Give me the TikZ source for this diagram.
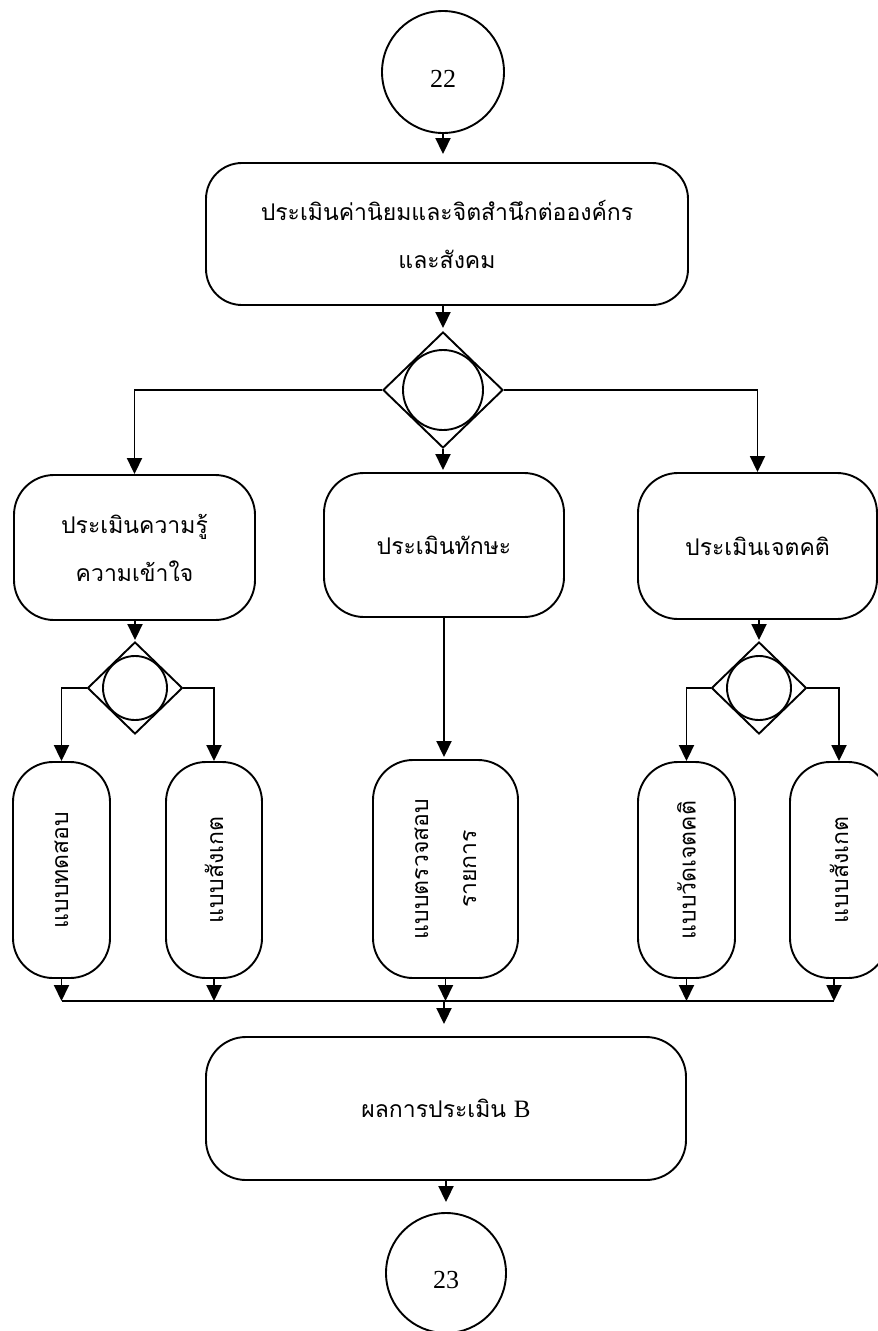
\documentclass[tikz,border=0pt]{standalone}
\usepackage{fontspec}
\setmainfont{Liberation Serif}
\newfontfamily\thai[Script=Thai]{Loma}
\usetikzlibrary{shapes.geometric,arrows.meta}
\begin{document}
\begin{tikzpicture}[x=1pt,y=-1pt,line width=1.9pt,
  thaitext/.style={font=\thai\fontsize{23}{48}\selectfont},
  rbox/.style={draw,rounded corners=40pt,inner sep=0pt,align=center,thaitext},
  vbox/.style={rbox,rotate=90},
  dmd/.style={draw,diamond,inner sep=0pt},
  ring/.style={draw,circle,inner sep=0pt},
  conn/.style={draw,circle,inner sep=0pt,font=\fontsize{26}{30}\selectfont},
  arr/.style={-{Triangle[length=16pt,width=15pt]}}]
\useasboundingbox (0,0) rectangle (878,1331);
% connectors (circles)
\node[conn,minimum size=122pt] (c22) at (443,72) {\raisebox{-7pt}[\height][\depth]{22}};
\node[conn,minimum size=120pt] (c23) at (446,1273) {\raisebox{-7pt}[\height][\depth]{23}};
% top box
\node[rbox,rounded corners=36pt,minimum width=482pt,minimum height=142pt] (top) at (447,234)
  {ประเมินค่านิยมและจิตสำนึกต่อองค์กร\\และสังคม};
% main decision
\node[dmd,minimum width=120pt,minimum height=116pt] (D1) at (443,390) {};
\node[ring,minimum size=80pt] (D1c) at (443,390) {};
% middle row
\node[rbox,minimum width=241pt,minimum height=145pt] (L) at (134.5,547.5) {ประเมินความรู้\\ความเข้าใจ};
\node[rbox,minimum width=240pt,minimum height=144pt] (M) at (444,545) {ประเมินทักษะ};
\node[rbox,minimum width=239pt,minimum height=146pt] (R) at (757.5,546) {ประเมินเจตคติ};
% small decisions
\node[dmd,minimum width=95pt,minimum height=92pt] (D2) at (135,688) {};
\node[ring,minimum size=64pt] (D2c) at (135,688) {};
\node[dmd,minimum width=95pt,minimum height=92pt] (D3) at (759,688) {};
\node[ring,minimum size=64pt] (D3c) at (759,688) {};
% bottom row (vertical text; rotated: east = visual top, west = visual bottom)
\node[vbox,minimum width=216pt,minimum height=97pt] (B1) at (61.5,870) {แบบทดสอบ};
\node[vbox,minimum width=216pt,minimum height=96pt] (B2) at (214,870) {แบบสังเกต};
\node[vbox,minimum width=218pt,minimum height=145pt] (B3) at (445.5,869) {แบบตรวจสอบ\\รายการ};
\node[vbox,minimum width=216pt,minimum height=97pt] (B4) at (686.5,870) {แบบวัดเจตคติ};
\node[vbox,minimum width=216pt,minimum height=98pt] (B5) at (839,870) {แบบสังเกต};
% final box
\node[rbox,minimum width=480pt,minimum height=143pt] (F) at (446,1108.5)
  {ผลการประเมิน {\rmfamily\fontsize{25}{30}\selectfont B}};
% bus coordinates
\coordinate (busL) at (62,1001);
\coordinate (busR) at (834,1001);
\coordinate (busM) at (444,1001);
% arrows
\draw[arr,shorten >=8pt] (c22.south) -- (c22.south |- top.north);
\draw[arr,shorten >=3pt] (D1.north |- top.south) -- (D1.north);
\draw[arr] (D1.west) -| (L.north);
\draw[arr] (D1.east) -| (R.north);
\draw[arr,shorten >=2pt] (D1.south) -- (D1.south |- M.north);
\draw[arr,shorten >=1pt] (D2.north |- L.south) -- (D2.north);
\draw[arr,shorten >=1pt] (D3.north |- R.south) -- (D3.north);
\draw[arr] (D2.west) -| (B1.east);
\draw[arr] (D2.east) -| (B2.east);
\draw[arr] (D3.west) -| (B4.east);
\draw[arr] (D3.east) -| (B5.east);
\draw[arr,shorten >=2pt] (M.south) -- (M.south |- B3.east);
\draw (busL) -- (busR);
\draw[arr] (B1.west) -- (B1.west |- busL);
\draw[arr] (B2.west) -- (B2.west |- busL);
\draw[arr] (B3.west) -- (B3.west |- busL);
\draw[arr] (B4.west) -- (B4.west |- busL);
\draw[arr] ([xshift=-5pt]B5.west) -- ([xshift=-5pt]B5.west |- busR);
\draw[arr,shorten >=12pt] (busM) -- (busM |- F.north);
\draw[arr,shorten >=10pt] (F.south) -- (F.south |- c23.north);
\end{tikzpicture}
\end{document}
